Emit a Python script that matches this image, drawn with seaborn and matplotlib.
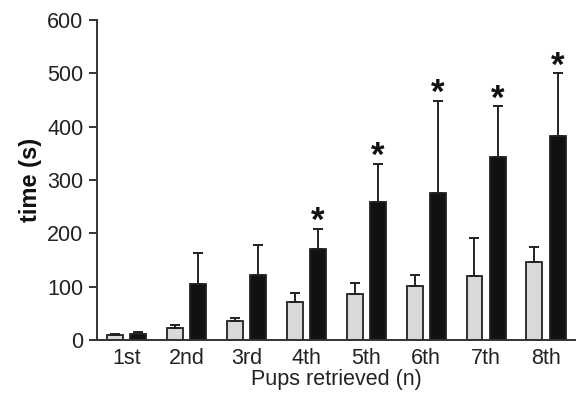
import seaborn as sns
import matplotlib.pyplot as plt
import pandas as pd

# data
pups = ['1st', '2nd', '3rd', '4th', '5th', '6th', '7th', '8th']
ctrl_mean = [9, 23, 35, 71, 87, 101, 120, 146]
ctrl_top = [12, 29, 42, 89, 107, 122, 191, 175]
test_mean = [12, 106, 122, 170, 259, 275, 344, 383]
test_top = [16, 164, 178, 209, 331, 449, 439, 500]
signif = [False, False, False, True, True, True, True, True]

groups = ['control', 'test']
colors = ['#d9d9d9', '#111111']

df = pd.DataFrame({
    'pup': pups * 2,
    'group': ['control'] * len(pups) + ['test'] * len(pups),
    'time': ctrl_mean + test_mean,
})

sns.set_style('ticks')
plt.rcParams['font.family'] = ['Liberation Sans', 'DejaVu Sans']

fig = plt.figure(figsize=(5.76, 4.01), dpi=100)
ax = fig.add_axes([0.168, 0.152, 0.832, 0.798])

sns.barplot(data=df, x='pup', y='time', hue='group', hue_order=groups,
            palette=colors, width=0.78, gap=0.32, errorbar=None,
            edgecolor='#222222', linewidth=1.3, legend=False, ax=ax)

# error bars (upper only) and asterisks, positioned from the drawn bars
bars = ax.patches
n = len(pups)
for k, (means, tops) in enumerate([(ctrl_mean, ctrl_top), (test_mean, test_top)]):
    for i in range(n):
        p = bars[k * n + i]
        xc = p.get_x() + p.get_width() / 2
        ax.errorbar(xc, means[i], yerr=[[0], [tops[i] - means[i]]],
                    fmt='none', ecolor='#222222', elinewidth=1.4,
                    capsize=3.5, capthick=1.4)
        if k == 1 and signif[i]:
            ax.text(xc, tops[i] - 5, '*', ha='center', va='baseline',
                    fontsize=25, fontweight='bold', color='#111111')

ax.set_ylim(0, 600)
ax.set_xlim(-0.5, 7.5)
ax.set_yticks(range(0, 601, 100))
ax.set_ylabel('time (s)', fontsize=17, fontweight='bold', color='#111111',
              labelpad=4)
ax.set_xlabel('Pups retrieved (n)', fontsize=15.5, color='#222222', labelpad=0)
ax.tick_params(axis='y', length=6, width=1.3, labelsize=15.5, colors='#222222')
ax.tick_params(axis='x', length=0, labelsize=15.5, colors='#222222', pad=6)

sns.despine(ax=ax)
for s in ['left', 'bottom']:
    ax.spines[s].set_color('#333333')
    ax.spines[s].set_linewidth(1.4)

plt.savefig('out.png', dpi=100)
